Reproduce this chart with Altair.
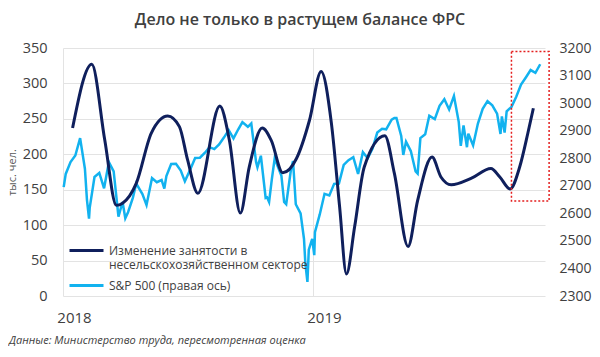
import altair as alt
import pandas as pd

TITLE = "Дело не только в растущем балансе ФРС"
SOURCE = "Данные: Министерство труда, пересмотренная оценка"
Y_TITLE = "тыс. чел."
EMP = "Изменение занятости в несельскохозяйственном секторе"
SP = "S&P 500 (правая ось)"
NAVY = "#0f1f5c"
CYAN = "#12b2ef"
FONT = "Open Sans"

# Employment change (thousand)
emp_dates = ["2018-01-15", "2018-02-12", "2018-03-03", "2018-03-20", "2018-03-29", "2018-04-18",
             "2018-05-10", "2018-06-03", "2018-06-20", "2018-07-02", "2018-07-17", "2018-08-18",
             "2018-09-01", "2018-09-17", "2018-09-30", "2018-10-19", "2018-11-01", "2018-11-18",
             "2018-12-08", "2018-12-27", "2019-01-13", "2019-01-28", "2019-02-09", "2019-02-19",
             "2019-03-03", "2019-03-17", "2019-04-16", "2019-04-30", "2019-05-20", "2019-06-03",
             "2019-06-24", "2019-07-07", "2019-07-22", "2019-08-20", "2019-09-18", "2019-10-01",
             "2019-10-16", "2019-10-30", "2019-11-11", "2019-11-19"]
emp_values = [237, 327, 220, 128, 131, 159,
              230, 254, 239, 192, 145, 268,
              220, 117, 182, 237, 220, 174,
              194, 248, 317, 244, 126, 31,
              98, 182, 226, 173, 70, 135,
              196, 168, 157, 166, 180, 168,
              151, 182, 230, 265]

# S&P 500 closes
sp_dates = ["2018-01-02", "2018-01-05", "2018-01-12", "2018-01-19", "2018-01-26", "2018-02-02",
            "2018-02-05", "2018-02-08", "2018-02-09", "2018-02-16", "2018-02-23", "2018-03-02",
            "2018-03-09", "2018-03-16", "2018-03-23", "2018-03-29", "2018-04-02", "2018-04-06",
            "2018-04-13", "2018-04-18", "2018-04-27", "2018-05-03", "2018-05-11", "2018-05-18",
            "2018-05-25", "2018-05-29", "2018-06-01", "2018-06-08", "2018-06-15", "2018-06-22",
            "2018-06-28", "2018-07-06", "2018-07-13", "2018-07-20", "2018-07-27", "2018-08-03",
            "2018-08-10", "2018-08-17", "2018-08-24", "2018-08-31", "2018-09-07", "2018-09-14",
            "2018-09-20", "2018-09-28", "2018-10-03", "2018-10-10", "2018-10-12", "2018-10-17",
            "2018-10-24", "2018-10-26", "2018-10-29", "2018-11-02", "2018-11-07", "2018-11-09",
            "2018-11-16", "2018-11-20", "2018-11-23", "2018-11-30", "2018-12-03", "2018-12-07",
            "2018-12-14", "2018-12-19", "2018-12-21", "2018-12-24", "2018-12-26", "2018-12-31",
            "2019-01-03", "2019-01-04", "2019-01-11", "2019-01-18", "2019-01-25", "2019-02-01",
            "2019-02-08", "2019-02-15", "2019-02-22", "2019-03-01", "2019-03-08", "2019-03-15",
            "2019-03-22", "2019-03-29", "2019-04-05", "2019-04-12", "2019-04-18", "2019-04-26",
            "2019-04-30", "2019-05-03", "2019-05-10", "2019-05-13", "2019-05-17", "2019-05-24",
            "2019-05-31", "2019-06-03", "2019-06-07", "2019-06-14", "2019-06-20", "2019-06-28",
            "2019-07-05", "2019-07-12", "2019-07-19", "2019-07-26", "2019-08-02", "2019-08-05",
            "2019-08-09", "2019-08-14", "2019-08-16", "2019-08-23", "2019-08-30", "2019-09-06",
            "2019-09-13", "2019-09-20", "2019-09-27", "2019-10-02", "2019-10-04", "2019-10-08",
            "2019-10-11", "2019-10-18", "2019-10-25", "2019-11-01", "2019-11-08", "2019-11-15",
            "2019-11-22", "2019-11-29"]
sp_values = [2695, 2743, 2786, 2810, 2873, 2762,
             2649, 2581, 2620, 2732, 2747, 2691,
             2786, 2752, 2588, 2641, 2582, 2604,
             2656, 2708, 2670, 2630, 2728, 2713,
             2721, 2690, 2735, 2779, 2780, 2755,
             2716, 2760, 2801, 2802, 2819, 2840,
             2833, 2850, 2875, 2902, 2872, 2905,
             2931, 2914, 2926, 2786, 2767, 2809,
             2656, 2658, 2641, 2723, 2814, 2781,
             2736, 2641, 2633, 2760, 2790, 2633,
             2600, 2507, 2417, 2351, 2468, 2507,
             2448, 2532, 2596, 2671, 2665, 2707,
             2708, 2776, 2793, 2804, 2743, 2822,
             2800, 2834, 2893, 2907, 2905, 2940,
             2946, 2946, 2881, 2812, 2860, 2826,
             2752, 2744, 2873, 2887, 2954, 2942,
             2990, 3014, 2977, 3026, 2932, 2845,
             2919, 2840, 2889, 2847, 2926, 2979,
             3007, 2992, 2962, 2888, 2952, 2893,
             2970, 2986, 3023, 3067, 3093, 3120,
             3110, 3141]

# Highlight box (dates, left-axis values)
box_dates = ["2019-10-18", "2019-12-12"]
box_values = [134, 345]

x_domain = ["2018-01-01", "2019-12-06"]
year_ticks = ["2018-01-01", "2019-01-01"]
left_ticks = [0, 50, 100, 150, 200, 250, 300, 350]
right_ticks = [2300, 2400, 2500, 2600, 2700, 2800, 2900, 3000, 3100, 3200]

emp_df = pd.DataFrame({"date": pd.to_datetime(emp_dates), "value": emp_values, "series": EMP})
sp_df = pd.DataFrame({"date": pd.to_datetime(sp_dates), "value": sp_values, "series": SP})
box_df = pd.DataFrame({"date": [pd.to_datetime(box_dates[0])], "d2": [pd.to_datetime(box_dates[1])],
                       "value": [box_values[0]], "v2": [box_values[1]]})
src_df = pd.DataFrame({"t": [SOURCE]})

def dt(s):
    t = pd.Timestamp(s)
    return alt.DateTime(year=t.year, month=t.month, date=t.day)

GRID = "#e3e3e3"
xscale = alt.Scale(domain=[dt(x_domain[0]), dt(x_domain[1])], nice=False)
xaxis = alt.Axis(values=[dt(v) for v in year_ticks], format="%Y", title=None, grid=True,
                 gridColor=GRID, domain=False, ticks=False, labelFontSize=15,
                 labelColor="#404040", labelFont=FONT, labelOffset=11, labelPadding=14,
                 labelFlush=False, labelAlign="center")
left_scale = alt.Scale(domain=[0, 350], nice=False)
left_axis = alt.Axis(orient="left", values=left_ticks, grid=True, gridColor=GRID,
                     domain=False, ticks=False, labelFontSize=14.5, labelColor="#404040",
                     labelFont=FONT, labelPadding=16, title=Y_TITLE, titleFont=FONT,
                     titleFontSize=11, titleFontWeight="normal", titleColor="#595959",
                     titlePadding=5)

legend_common = dict(orient="none", legendX=5, title=None, symbolType="stroke",
                     symbolSize=1156, symbolStrokeWidth=3, labelFont=FONT, labelFontSize=12,
                     labelColor="#404040", labelLimit=0, labelOffset=4, padding=0)

emp_color = alt.Color("series:N", scale=alt.Scale(domain=[EMP], range=[NAVY]),
                      legend=alt.Legend(legendY=184, **legend_common,
                                        labelExpr="['Изменение занятости в', 'несельскохозяйственном секторе']"))
sp_stroke = alt.Stroke("series:N", scale=alt.Scale(domain=[SP], range=[CYAN]),
                       legend=alt.Legend(legendY=219, **legend_common))

sp_line = alt.Chart(sp_df).mark_line(strokeWidth=2.5).encode(
    x=alt.X("date:T", scale=xscale, axis=xaxis),
    y=alt.Y("value:Q", scale=alt.Scale(domain=[2300, 3200], nice=False),
            axis=alt.Axis(orient="right", values=right_ticks, format="d", grid=False,
                          domain=False, ticks=False, labelFontSize=14, labelColor="#404040",
                          labelFont=FONT, labelPadding=14, title=None)),
    stroke=sp_stroke,
)

emp_line = alt.Chart(emp_df).mark_line(strokeWidth=3, interpolate="monotone").encode(
    x=alt.X("date:T", scale=xscale, axis=xaxis),
    y=alt.Y("value:Q", scale=left_scale, axis=left_axis),
    color=emp_color,
)

box = alt.Chart(box_df).mark_rect(fillOpacity=0, stroke="#e41e1e", strokeWidth=1.5,
                                  strokeDash=[2, 2], clip=False).encode(
    x=alt.X("date:T", scale=xscale, axis=xaxis), x2="d2:T",
    y=alt.Y("value:Q", scale=left_scale, axis=left_axis), y2="v2:Q",
)

left = alt.layer(emp_line, box)

src = alt.Chart(src_df).mark_text(align="left", baseline="middle", font=FONT, fontSize=11,
                                  fontStyle="italic", color="#404040").encode(
    text="t:N", x=alt.value(-54), y=alt.value(293))

chart = alt.layer(sp_line, left, src).resolve_scale(y="independent").properties(
    width=482, height=248,
    padding={"left": 55, "top": 40, "right": 47, "bottom": 52},
    autosize=alt.AutoSizeParams(type="none"),
    title=alt.Title(TITLE, font=FONT, fontSize=16, fontWeight=600, color="#404040",
                    offset=12, dx=-4, anchor="middle", frame="group"),
).configure_view(stroke=None)

chart.save("out.html", embed_options={"renderer": "svg", "actions": False})
